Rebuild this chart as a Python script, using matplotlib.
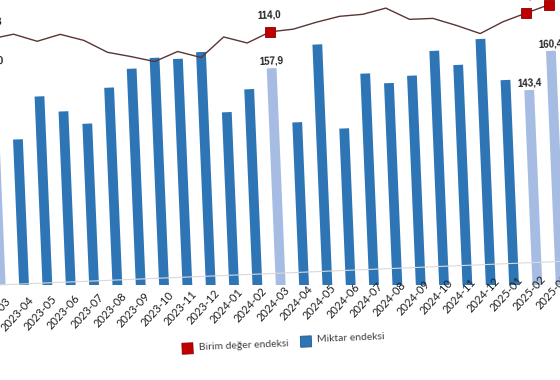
import matplotlib.pyplot as plt
import numpy as np
from matplotlib.transforms import Affine2D
from matplotlib.patches import Rectangle

# veriler
aylar = ['2023-03', '2023-04', '2023-05', '2023-06', '2023-07', '2023-08', '2023-09',
         '2023-10', '2023-11', '2023-12', '2024-01', '2024-02', '2024-03', '2024-04',
         '2024-05', '2024-06', '2024-07', '2024-08', '2024-09', '2024-10', '2024-11',
         '2024-12', '2025-01', '2025-02', '2025-03']
miktar = [163.0, 131.0, 149.7, 142.6, 136.7, 152.3, 160.3, 164.7, 163.8, 166.4, 139.2, 149.0,
          157.9, 133.4, 167.6, 129.8, 153.8, 149.1, 152.0, 162.6, 155.9, 167.0, 148.3, 143.4, 160.4]
birim = [115.3, 116.4, 114.1, 115.8, 113.8, 110.1, 108.6, 106.9, 109.5, 107.5, 113.1, 111.1,
         114.0, 114.5, 116.2, 117.6, 117.9, 119.4, 115.9, 115.9, 113.6, 111.0, 114.1, 116.3, 118.4]
vurgu = ['2023-03', '2024-03', '2025-02', '2025-03']

W, H = 560, 380
taban = 273.5      # taban çizgisi (üstten piksel)
aci = 2.4          # görüntü hafif eğik

fig = plt.figure(figsize=(W / 100, H / 100), dpi=100)
ax = fig.add_axes([0, (H - taban) / H, 1, taban / H])
ax2 = ax.twinx()
ax.set_xlim(-0.02, 24.0)
ax.set_ylim(66.7, 188.3)
ax2.set_ylim(45.0, 123.14)
ax.axis('off')
ax2.axis('off')

rot = Affine2D().rotate_deg_around(272, H - taban, aci)
kirp = Rectangle((0, 0), 1, 1, transform=ax.transAxes + rot, facecolor='none')

x = np.arange(len(aylar))
idx = [aylar.index(a) for a in vurgu]

# taban çizgisi
ln = ax.axhline(ax.get_ylim()[0], color='#D9D9D9', lw=0.8)
ln.set_transform(ax.get_yaxis_transform() + rot)
ln.set_clip_on(False)

# sütunlar - miktar endeksi
renk = ['#A7BCE3' if a in vurgu else '#2E75B6' for a in aylar]
bars = ax.bar(x, miktar, width=0.42, color=renk, edgecolor='none')
for b in bars:
    b.set_transform(ax.transData + rot)
    b.set_clip_path(kirp)

# çizgi - birim değer endeksi
cizgi, = ax2.plot(x, birim, color='#5B3535', lw=1.0, zorder=3)
cizgi.set_transform(ax2.transData + rot)
cizgi.set_clip_on(False)
isaret, = ax2.plot(x[idx], np.array(birim)[idx], ls='none', marker='s', ms=6.5,
                   mfc='#C00000', mec='#8B0000', mew=0.6, zorder=4)
isaret.set_transform(ax2.transData + rot)
isaret.set_clip_on(False)

# etiketler
for i in idx:
    ax.text(x[i], miktar[i], f'{miktar[i]:.1f}'.replace('.', ','),
            transform=ax.transData + Affine2D().translate(0, 2) + rot,
            ha='center', va='bottom', fontsize=7, fontweight='bold',
            family='Liberation Sans', color='#222222', rotation=aci, rotation_mode='anchor')
    ax2.text(x[i], birim[i], f'{birim[i]:.1f}'.replace('.', ','),
             transform=ax2.transData + Affine2D().translate(0, 12) + rot,
             ha='center', va='bottom', fontsize=7, fontweight='bold',
             family='Liberation Sans', color='#222222', rotation=aci, rotation_mode='anchor')

# x ekseni yazıları
for i, a in enumerate(aylar):
    ax.text(x[i], ax.get_ylim()[0], a,
            transform=ax.transData + Affine2D().translate(7, -15) + rot,
            rotation=45 + aci, rotation_mode='anchor', ha='right', va='center',
            fontsize=8, family='Lato', color='#1E1E1E')

# lejant
img = Affine2D().scale(1, -1).translate(0, H) + rot
fig.add_artist(Rectangle((179, 339.4), 11, 11, transform=img,
                         facecolor='#C00000', edgecolor='#8B0000', lw=0.6))
fig.text(196, 343.9, 'Birim değer endeksi', transform=img, va='center', ha='left',
         fontsize=7.5, family='Lato', color='#404040', rotation=aci, rotation_mode='anchor')
fig.add_artist(Rectangle((297.6, 337.4), 11, 11, transform=img,
                         facecolor='#2E75B6', edgecolor='#1F5A8E', lw=0.6))
fig.text(314, 341.8, 'Miktar endeksi', transform=img, va='center', ha='left',
         fontsize=7.5, family='Lato', color='#404040', rotation=aci, rotation_mode='anchor')

fig.savefig('out.png', dpi=100)
